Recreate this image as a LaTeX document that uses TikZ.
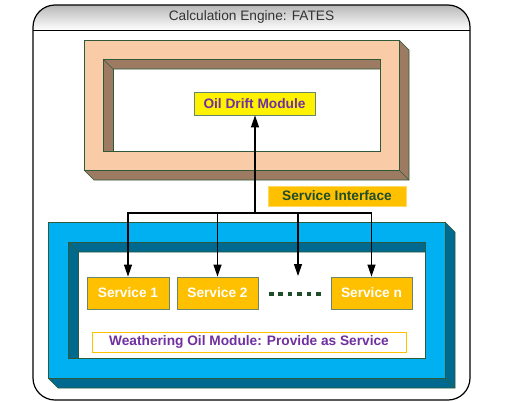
\documentclass[tikz,border=0pt]{standalone}
\usepackage{fontspec}
\setmainfont{Liberation Sans}
\usetikzlibrary{arrows.meta}
\definecolor{peach}{HTML}{F9CBA7}
\definecolor{brownside}{HTML}{9C7B62}
\definecolor{bluefront}{HTML}{00B0F0}
\definecolor{blueside}{HTML}{00698F}
\definecolor{orangebox}{HTML}{FFC000}
\definecolor{purpletext}{HTML}{7030A0}
\definecolor{greentext}{HTML}{1F4D2A}
\definecolor{edgegreen}{HTML}{2E5A3A}
\definecolor{boxedge}{HTML}{6A866A}
\begin{document}
\begin{tikzpicture}[x=1pt,y=-1pt,
  txt/.style={font=\fontsize{13.7}{16}\selectfont\bfseries, inner sep=0pt},
  framedge/.style={draw=edgegreen, line width=0.6pt},
  servicebox/.style={txt, fill=orangebox, draw=boxedge, line width=0.8pt, text=white, minimum width=81pt, minimum height=32pt},
  conn/.style={line width=1.1pt, black},
  tip/.style={-{Triangle[width=8pt,length=12pt]}}
]
\useasboundingbox (0,0) rectangle (512,402);
% outer engine frame
\begin{scope}
\clip[rounded corners=22pt] (33,5) rectangle (470,400);
\shade[top color=black!28, bottom color=white] (33,5) rectangle (470,30);
\end{scope}
\draw[line width=1.2pt, rounded corners=22pt] (33,5) rectangle (470,400);
\draw[line width=1pt] (33,30) -- (470,30);
\node[font=\fontsize{13.7}{16}\selectfont, text=black!80, inner sep=0pt] (title) at (251.5,17) {Calculation Engine: FATES};

% peach 3D frame
\fill[peach, even odd rule] (84,40) rectangle (399,170) (103,59) rectangle (380,151);
\fill[brownside] (399,40) -- (409,50) -- (409,180) -- (399,170) -- cycle;
\fill[brownside] (84,170) -- (94,180) -- (409,180) -- (399,170) -- cycle;
\fill[brownside] (103,59) -- (380,59) -- (380,69) -- (113,69) -- cycle;
\fill[brownside] (103,59) -- (113,69) -- (113,151) -- (103,151) -- cycle;
\draw[framedge] (84,40) rectangle (399,170);
\draw[framedge] (399,40) -- (409,50) -- (409,180) -- (94,180) -- (84,170);
\draw[framedge] (399,170) -- (409,180);
\draw[framedge] (103,59) rectangle (380,151);
\draw[framedge] (103,59) -- (113,69) -- (380,69);
\draw[framedge] (113,69) -- (113,151);

% blue 3D frame
\fill[bluefront, even odd rule] (48,222) rectangle (445,378) (68,242) rectangle (425,358);
\fill[blueside] (445,222) -- (455,232) -- (455,388) -- (445,378) -- cycle;
\fill[blueside] (48,378) -- (58,388) -- (455,388) -- (445,378) -- cycle;
\fill[blueside] (68,242) -- (425,242) -- (425,252) -- (78,252) -- cycle;
\fill[blueside] (68,242) -- (78,252) -- (78,358) -- (68,358) -- cycle;
\draw[framedge] (48,222) rectangle (445,378);
\draw[framedge] (445,222) -- (455,232) -- (455,388) -- (58,388) -- (48,378);
\draw[framedge] (445,378) -- (455,388);
\draw[framedge] (68,242) rectangle (425,358);
\draw[framedge] (68,242) -- (78,252) -- (425,252);
\draw[framedge] (78,252) -- (78,358);

% nodes
\node[txt, fill=yellow, draw=boxedge, line width=0.8pt, text=purpletext, minimum width=121pt, minimum height=23pt] (oil) at (254.5,103.5) {Oil Drift Module};
\node[txt, fill=orangebox, draw=orangebox!60, line width=0.8pt, text=greentext, minimum width=138pt, minimum height=20pt] (iface) at (337,196) {Service Interface};
\node[servicebox, minimum width=82pt] (s1) at (128,293) {Service 1};
\node[servicebox] (s2) at (217.5,293) {Service 2};
\node[servicebox] (sn) at (371.5,293) {Service n};
\node[txt, fill=white, draw=orangebox, line width=0.8pt, text=purpletext, minimum width=314pt, minimum height=20pt] (weather) at (249,342) {Weathering Oil Module: Provide as Service};
\foreach \i in {0,...,5} {
  \fill[greentext] ({269+\i*9.4},291.5) rectangle ++(4.6,4.6);
}

% connectors
\coordinate (junction) at (255,213);
\coordinate (dotstop) at (298,276);
\draw[conn, tip] (junction) -- (junction |- oil.south);
\draw[conn, tip] (junction) -| (s1.north);
\draw[conn, tip] (junction) -| (s2.north);
\draw[conn, tip] (junction) -| (dotstop);
\draw[conn, tip] (junction) -| (sn.north);
\end{tikzpicture}
\end{document}
